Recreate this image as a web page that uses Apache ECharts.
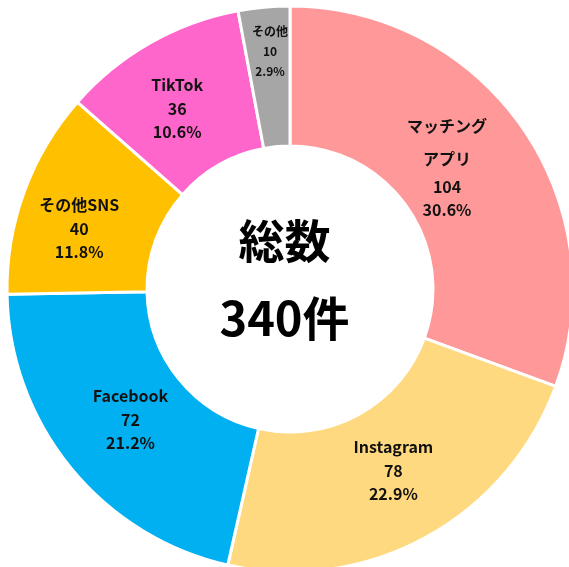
<!DOCTYPE html>
<html>
<head>
<meta charset="utf-8">
<script src="https://cdn.jsdelivr.net/npm/echarts@6/dist/echarts.min.js"></script>
<style>
  html, body { margin: 0; padding: 0; background: #fff; }
  #main { width: 569px; height: 567px; }
</style>
</head>
<body>
<div id="main"></div>
<script>
// データ
var names = ['マッチング\nアプリ', 'Instagram', 'Facebook', 'その他SNS', 'TikTok', 'その他'];
var values = [104, 78, 72, 40, 36, 10];
var totalLabel = ['総数', '340件'];

// 見た目
var colors = ['#FF9999', '#FFD97F', '#00B0F0', '#FFC000', '#FF66CC', '#A6A6A6'];
// ラベル位置の微調整 (padding: 上 右 下 左)
var labelPad = [
  [0, 40, 0, 0],
  [0, 0, 18, 0],
  [0, 0, 14, 16],
  [26, 16, 0, 0],
  [14, 12, 0, 0],
  [0, 0, 44, 0]
];

(function () {
  var myChart = echarts.init(document.getElementById('main'));
  var total = values.reduce(function (a, b) { return a + b; }, 0);

  var data = names.map(function (n, i) {
    var item = {
      name: n,
      value: values[i],
      itemStyle: { color: colors[i] },
      label: { padding: labelPad[i] }
    };
    // その他 は小さいので文字も小さく
    if (i === names.length - 1) {
      item.label.formatter = function (p) {
        return '{s|' + p.name + '}\n{s|' + p.value + '}\n{s|' + (p.value / total * 100).toFixed(1) + '%}';
      };
    }
    return item;
  });

  var option = {
    animation: false,
    series: [
      {
        type: 'pie',
        center: [290, 289],
        radius: [143, 283],
        startAngle: 90,
        clockwise: true,
        itemStyle: {
          borderColor: '#fff',
          borderWidth: 3
        },
        label: {
          show: true,
          position: 'inside',
          color: '#111',
          fontFamily: 'Noto Sans CJK JP',
          fontWeight: 'bold',
          formatter: function (p) {
            var parts = p.name.split('\n');
            var key = parts.length > 1 ? 'm' : 'n';
            var nm = parts.map(function (s) { return '{' + key + '|' + s + '}'; }).join('\n');
            return nm + '\n{v|' + p.value + '}\n{v|' + (p.value / total * 100).toFixed(1) + '%}';
          },
          rich: {
            m: { fontSize: 16, fontWeight: 'bold', lineHeight: 33, color: '#111', fontFamily: 'Noto Sans CJK JP' },
            n: { fontSize: 16, fontWeight: 'bold', lineHeight: 25, color: '#111', fontFamily: 'Noto Sans CJK JP' },
            v: { fontSize: 16, fontWeight: 'bold', lineHeight: 23, color: '#111', fontFamily: 'Noto Sans CJK JP' },
            s: { fontSize: 12, fontWeight: 'bold', lineHeight: 20, color: '#111', fontFamily: 'Noto Sans CJK JP' }
          }
        },
        labelLine: { show: false },
        data: data
      }
    ],
    graphic: [
      {
        type: 'text',
        left: 'center',
        top: 218,
        style: {
          text: totalLabel[0],
          font: 'bold 46px "Noto Sans CJK JP"',
          fill: '#000'
        }
      },
      {
        type: 'text',
        left: 'center',
        top: 295,
        style: {
          text: totalLabel[1],
          font: 'bold 47px "Noto Sans CJK JP"',
          fill: '#000'
        }
      }
    ]
  };

  myChart.setOption(option);
  window.addEventListener('resize', function () {
    myChart.resize();
  });
})();
</script>
</body>
</html>
